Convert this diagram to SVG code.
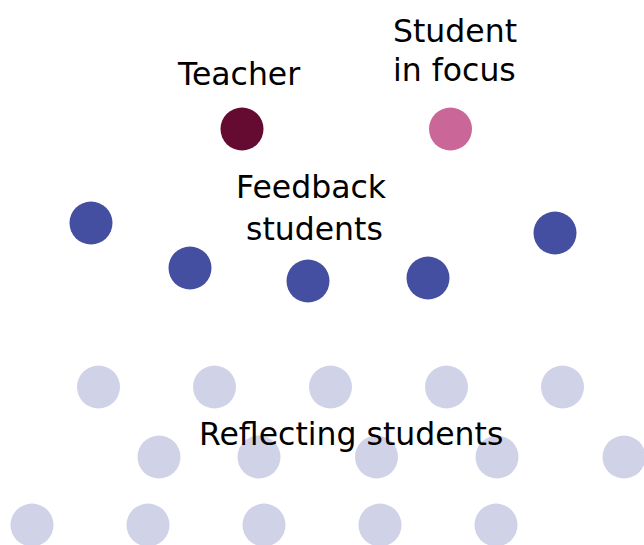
<svg xmlns="http://www.w3.org/2000/svg" width="644" height="545" viewBox="0 0 644 545">
  <style>
    text { font-family: "DejaVu Sans", Verdana, sans-serif; font-size: 31.5px; fill: #000; }
    .teacher { fill: #650a31; }
    .focus { fill: #cb6699; }
    .feedback { fill: #444fa1; }
    .reflect { fill: #d0d3e7; }
  </style>
  <rect width="644" height="545" fill="#ffffff"/>
  <g id="reflecting-students">
    <circle class="reflect" cx="98.5" cy="387" r="21.5"/>
    <circle class="reflect" cx="214.5" cy="387" r="21.5"/>
    <circle class="reflect" cx="330.5" cy="387" r="21.5"/>
    <circle class="reflect" cx="446.5" cy="387" r="21.5"/>
    <circle class="reflect" cx="562.5" cy="387" r="21.5"/>
    <circle class="reflect" cx="159" cy="457" r="21.5"/>
    <circle class="reflect" cx="259" cy="457" r="21.5"/>
    <circle class="reflect" cx="376.5" cy="457" r="21.5"/>
    <circle class="reflect" cx="497" cy="457" r="21.5"/>
    <circle class="reflect" cx="624" cy="457" r="21.5"/>
    <circle class="reflect" cx="32" cy="525" r="21.5"/>
    <circle class="reflect" cx="148" cy="525" r="21.5"/>
    <circle class="reflect" cx="264" cy="525" r="21.5"/>
    <circle class="reflect" cx="380" cy="525" r="21.5"/>
    <circle class="reflect" cx="496" cy="525" r="21.5"/>
    <text x="199" y="445">Reflecting students</text>
  </g>
  <g id="teacher">
    <circle class="teacher" cx="242" cy="129" r="21.5"/>
    <text x="178" y="85">Teacher</text>
  </g>
  <g id="student-in-focus">
    <circle class="focus" cx="450.5" cy="129" r="21.5"/>
    <text x="393" y="42">Student</text>
    <text x="393" y="81">in focus</text>
  </g>
  <g id="feedback-students">
    <circle class="feedback" cx="91" cy="223" r="21.5"/>
    <circle class="feedback" cx="190" cy="268" r="21.5"/>
    <circle class="feedback" cx="308" cy="281" r="21.5"/>
    <circle class="feedback" cx="428" cy="278" r="21.5"/>
    <circle class="feedback" cx="555" cy="233" r="21.5"/>
    <text x="236" y="198">Feedback</text>
    <text x="246" y="240">students</text>
  </g>
  <g id="connectors"/>
</svg>
